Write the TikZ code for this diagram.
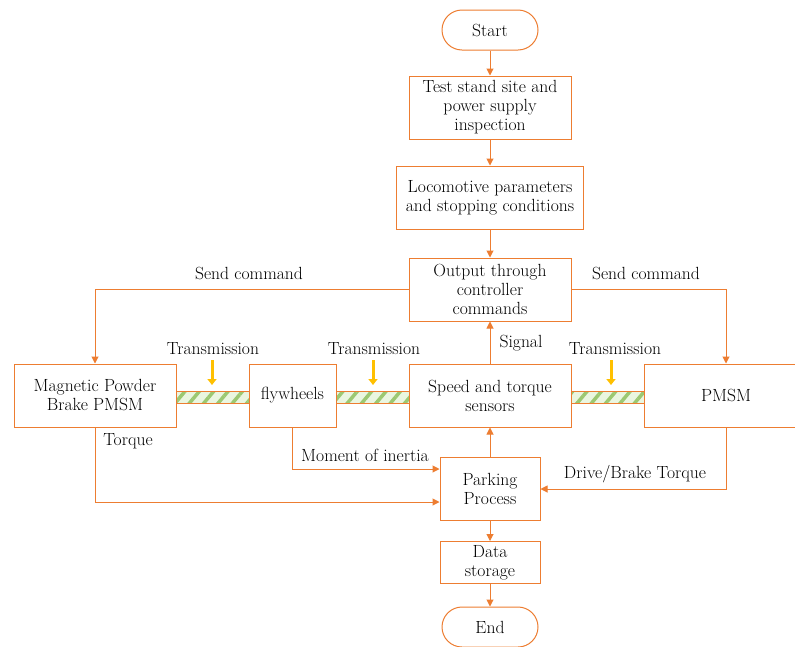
\documentclass[tikz,border=0pt]{standalone}
\usepackage{fontspec}
\usetikzlibrary{arrows.meta,patterns.meta,calc}
\definecolor{orng}{HTML}{ED7D31}
\definecolor{ylw}{HTML}{FFC000}
\definecolor{shaftg}{HTML}{9CC872}
\definecolor{shaftl}{HTML}{EAF6E0}
\tikzset{
  box/.style={draw=orng,line width=1pt,inner sep=0pt,align=center,fill=white},
  term/.style={box,rounded corners=20pt},
  arr/.style={draw=orng,line width=1pt,-{Triangle[length=7pt,width=7pt]}},
  lbl/.style={inner sep=0pt,align=center},
  yarr/.style={draw=ylw,line width=3pt,-{Triangle[length=6pt,width=9pt]}},
  shaft/.style={draw=orng,line width=1pt,preaction={fill=shaftl},
     pattern={Lines[angle=50,distance=11pt,line width=3.5pt]},pattern color=shaftg}
}
\begin{document}
\begin{tikzpicture}[x=1pt,y=-1pt,font=\fontsize{17.6}{19}\selectfont]
\clip (0,0) rectangle (795,646);
\fill[white] (0,0) rectangle (795,646);
% shafts
\draw[shaft] (176,391) rectangle (249,403);
\draw[shaft] (336,391) rectangle (409,403);
\draw[shaft] (571,391) rectangle (644,403);
% nodes
\node[term,minimum width=96pt,minimum height=40pt] (start) at (490,30) {Start};
\node[box,minimum width=162pt,minimum height=63pt] (test) at (490,107.5) {Test stand site and\\power supply\\inspection};
\node[box,minimum width=187pt,minimum height=63pt] (loco) at (490,197.5) {Locomotive parameters\\and stopping conditions};
\node[box,minimum width=162pt,minimum height=63pt] (out) at (490,289.5) {Output through\\controller\\commands};
\node[box,minimum width=162pt,minimum height=63pt] (mag) at (95,395.5) {Magnetic Powder\\Brake PMSM};
\node[box,minimum width=87pt,minimum height=63pt] (fly) at (292.5,395.5) {flywheels};
\node[box,minimum width=162pt,minimum height=63pt] (speed) at (490,395.5) {Speed and torque\\sensors};
\node[box,minimum width=164pt,minimum height=63pt] (pmsm) at (726,395.5) {PMSM};
\node[box,minimum width=100pt,minimum height=63pt] (park) at (490,489) {Parking\\Process};
\node[box,minimum width=100pt,minimum height=42pt] (data) at (490,562.5) {Data\\storage};
\node[term,minimum width=96pt,minimum height=40pt] (end) at (490,627) {End};
% connectors
\draw[arr] (start) -- (test);
\draw[arr] (test) -- (loco);
\draw[arr] (loco) -- (out);
\draw[arr] (out.west) -| (mag.north);
\draw[arr] (out.east) -| (pmsm.north);
\draw[arr] (speed) -- (out);
\draw[arr] (park) -- (speed);
\draw[arr] (mag.south) |- ($(park.west)+(0,13)$);
\draw[arr] (fly.south) |- ($(park.west)+(0,-20)$);
\draw[arr] (pmsm.south) |- (park.east);
\draw[arr] (park) -- (data);
\draw[arr] (data) -- (end);
% yellow arrows
\coordinate (y1a) at (212,360); \coordinate (y1b) at (212,385);
\coordinate (y2a) at (373,360); \coordinate (y2b) at (373,385);
\coordinate (y3a) at (611,360); \coordinate (y3b) at (611,385);
\draw[yarr] (y1a) -- (y1b);
\draw[yarr] (y2a) -- (y2b);
\draw[yarr] (y3a) -- (y3b);
% labels
\node[lbl] (l1) at (249,273) {Send command};
\node[lbl] (l2) at (646,273) {Send command};
\node[lbl] (l3) at (213,349) {Transmission};
\node[lbl] (l4) at (374,349) {Transmission};
\node[lbl] (l5) at (615,349) {Transmission};
\node[lbl] (l6) at (521,343) {Signal};
\node[lbl] (l7) at (128,441) {Torque};
\node[lbl] (l8) at (365,455) {Moment of inertia};
\node[lbl] (l9) at (635,474) {Drive/Brake Torque};
\end{tikzpicture}
\end{document}
